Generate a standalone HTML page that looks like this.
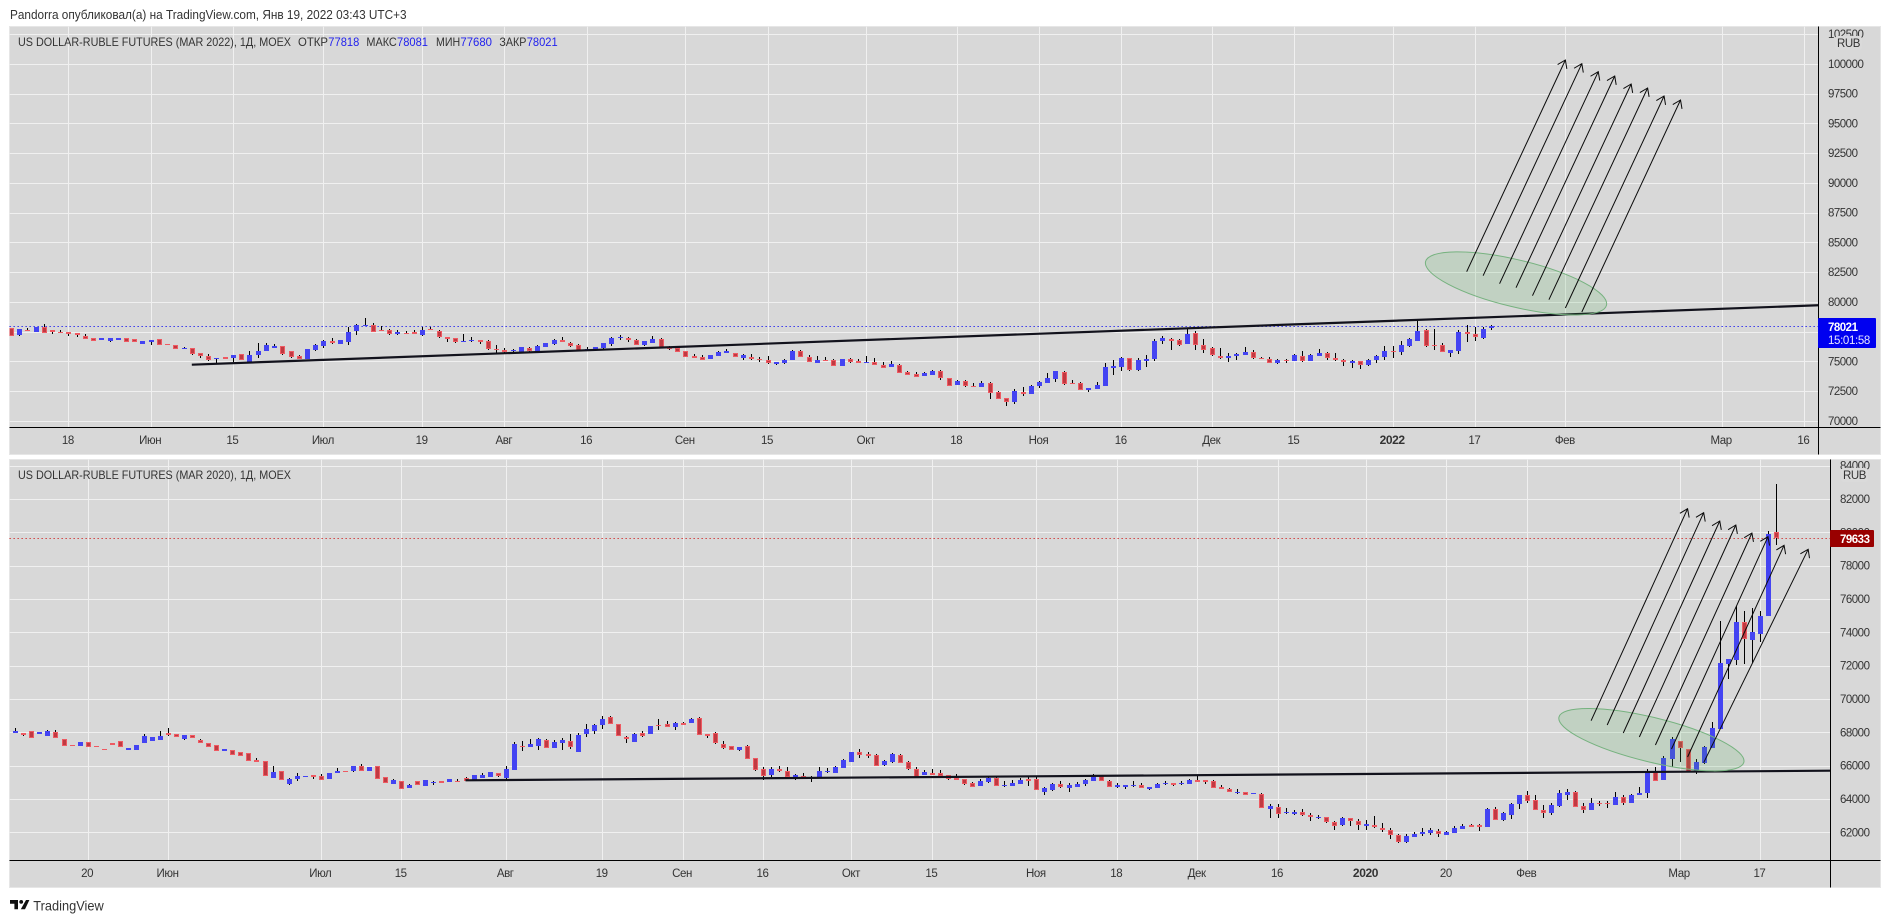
<!DOCTYPE html>
<html lang="ru">
<head>
<meta charset="utf-8">
<title>USD/RUB futures comparison</title>
<style>
html,body{margin:0;padding:0;background:#fff;width:1890px;height:923px;overflow:hidden}
svg{display:block}
text{font-family:"Liberation Sans","Noto Sans CJK SC",sans-serif;fill:#333}
</style>
</head>
<body>
<svg id="root" xmlns="http://www.w3.org/2000/svg" width="1890" height="923" viewBox="0 0 1890 923">
  <rect x="0" y="0" width="1890" height="923" fill="#ffffff"/>
  <text x="10" y="19" font-size="12.5" textLength="396.6" lengthAdjust="spacingAndGlyphs" fill="#333">Pandorra опубликовал(а) на TradingView.com, Янв 19, 2022 03:43 UTC+3</text>
  <g id="pane-top"></g>
  <g id="pane-bottom"></g>
  <g>
    <path d="M10 900h8v9.3h-3.6v-5.6H10zM26 900h3.4l-4.4 9.3h-4.2z" fill="#111"/>
    <circle cx="21.2" cy="901.9" r="1.9" fill="#111"/>
    <text x="33.3" y="910.5" font-size="14" textLength="70.4" lengthAdjust="spacingAndGlyphs" fill="#444">TradingView</text>
  </g>
</svg>
<script>
/* ---------- 2022 contract: daily OHLC ---------- */
const topOpen=[77784,77252,77644,77504,77924,77616,77476,77476,77364,77140,
76944,76776,76748,76776,76944,76860,76496,76608,76860,76468,
76412,76020,76104,75684,75432,75236,75348,75320,75600,74984,
75572,75908,76160,76272,75908,75432,75236,75992,76328,76692,
76496,76664,77588,77980,78036,77644,77616,77280,77392,77448,
77196,77728,77532,77056,76944,76664,76748,76776,76692,76020,
75964,75880,75796,76104,75880,76244,76496,76776,76524,76356,
75908,75936,76132,76496,76972,77000,
76804,76412,76580,76860,76160,76104,75852,75432,75348,75236,
75488,75740,75740,75320,75404,75208,75152,74816,74900,75152,
75852,75404,74900,75124,75096,74648,75180,75040,74900,74928,
74676,74536,74676,74088,73920,73808,73892,74228,73584,73052,
73332,72940,72884,73164,72436,71904,71624,72436,72296,72968,
73220,73556,74116,73192,73164,72632,72688,72968,74480,74564,
75264,74284,75068,75208,76720,76860,76776,76496,77364,76356,
76132,75488,75292,75460,75544,75768,
75320,75180,74900,75124,75068,75488,75068,75488,75684,75320,
75124,74844,75012,74732,75152,75376,75880,75796,76328,76748,
77644,76384,76356,75740,75908,77448,77280,76972,77818];
const topHigh=[77784,77700,77840,77868,78148,77616,77616,77476,77364,77308,
76944,76972,76944,76944,76944,76860,76692,76776,76860,76468,
76412,76216,76104,75684,75600,75292,75348,75516,75600,75880,
76552,76524,76440,76272,75908,75544,76020,76468,76804,76972,
76776,77924,78148,78652,78204,77980,77700,77616,77532,77644,
77924,77924,77644,77056,76944,77308,77028,76776,76776,76384,
76132,76048,76244,76216,76384,76524,76888,77056,76636,76468,
76216,76188,76524,77028,77224,77084,
76888,76692,77112,76944,76300,76104,75852,75600,75516,75516,
75908,76020,75740,75628,75600,75348,75432,74928,75208,75964,
75964,75544,75460,75348,75180,75180,75264,75208,75460,75264,
74928,75040,74760,74228,74088,74144,74284,74284,73640,73444,
73444,73192,73332,73248,72520,71904,72688,72828,73024,73360,
74060,74228,74228,73444,73248,72800,73276,74844,75124,75404,
75320,75264,75544,76888,77140,76944,76888,77784,77532,76888,
76244,76132,75684,75684,76216,75936,
75404,75348,75180,75208,75600,75880,75628,76048,75796,75684,
75208,75096,75012,75208,75544,76300,76300,76720,76944,78428,
77728,77728,76524,75936,77644,78036,77924,77924,78081];
const topLow=[77112,77168,77560,77504,77420,77336,77420,77168,77084,76916,
76748,76776,76664,76776,76664,76608,76496,76412,76412,76412,
76076,76020,75572,75320,75068,74872,75236,74956,75152,74928,
75320,75908,76160,75544,75320,75236,75180,75852,76132,76468,
76496,76412,77224,77980,77504,77588,77224,77252,77336,77280,
77168,77616,76972,76664,76580,76664,76664,76496,75964,75740,
75684,75824,75684,75824,75824,76244,76412,76608,76244,75852,
75908,75936,76048,76328,76832,76664,
76412,76300,76580,76160,75964,75824,75376,75320,75124,75236,
75488,75740,75404,75152,75124,74984,74788,74704,74816,75124,
75348,74956,74872,75040,74620,74648,74900,74872,74844,74676,
74424,74536,74004,73892,73696,73780,73892,73444,72940,72996,
72884,72884,72884,71876,71876,71260,71428,72100,72296,72772,
73220,73304,73052,73136,72604,72464,72688,72968,73864,74228,
74228,74200,74564,75040,76468,75992,76328,76496,75992,75712,
75488,75236,74956,75124,75544,75208,
75180,74844,74816,74900,75068,74928,75068,75488,75152,75040,
74648,74480,74396,74648,74900,75152,75320,75572,76244,76748,
76244,75992,75768,75404,75600,76636,76748,76888,77680];
const topClose=[77112,77700,77560,77868,77420,77504,77420,77336,77196,76916,
76748,76972,76944,76944,76664,76608,76692,76776,76412,76412,
76076,76132,75656,75460,75152,75292,75236,75516,75152,75516,
75880,76356,76272,75656,75404,75236,76020,76384,76692,76580,
76776,77476,78036,78036,77504,77588,77280,77448,77336,77280,
77616,77616,77028,76916,76664,76720,76804,76664,76020,75964,
75796,75936,76188,75880,76300,76524,76804,76608,76328,75908,
76048,76188,76524,76972,77028,76804,
76412,76692,76860,76160,76020,75824,75404,75320,75152,75516,
75768,75880,75404,75516,75180,75152,74844,74928,75124,75880,
75404,74984,75096,75068,74648,75180,74984,74900,74956,74732,
74480,74788,74060,73892,73724,74032,74172,73640,72968,73360,
72968,72884,73164,72380,71876,71624,72492,72296,72940,73276,
73584,74172,73136,73136,72632,72800,73024,74536,74620,75320,
74284,75124,75208,76720,76972,76720,76412,77308,76356,75992,
75572,75264,75460,75628,75768,75320,
75180,74900,75124,75068,75516,75068,75516,75684,75320,75096,
74928,75012,74732,75096,75432,75852,75824,76384,76888,77560,
76328,76328,75824,75936,77448,77280,77084,77700,78021];
const topPriceTicks=[70000,72500,75000,77500,80000,82500,85000,87500,90000,92500,95000,97500,100000,102500];
const topTimeBars=[7,17,27,38,50,60,70,82,92,104,115,125,135,146,156,168,178,189,208,218];
const topTimeLabels=["18","Июн","15","Июл","19","Авг","16","Сен","15","Окт","18","Ноя","16","Дек","15","2022","17","Фев","Мар","16"];
const topLastPrice=[78021];
const topTrendBars=[22,220];
const topTrendPrices=[74732,79730];
const topArrowStartBars=[177,179,181,183,185,187,189,191];
const topArrowStartPrices=[82544,82208,81536,81200,80528,80192,79492,79156];
const topArrowEndBars=[189,191,193,195,197,199,201,203];
const topArrowEndPrices=[100324,100016,99344,98980,98308,97972,97300,96964];
const topEllipseBars=[172,194];
const topEllipsePrices=[83390,79727];

/* ---------- 2020 contract: daily OHLC ---------- */
const bottomOpen=[67980,67940,68060,67920,67800,68000,67580,67220,67200,67400,
67160,66980,67340,67460,66960,66960,67380,67500,67560,67940,
67920,67600,67820,67520,67340,67220,66900,66920,66800,66740,
66340,66260,65280,65660,64920,65200,65340,65420,65360,65220,
65580,65680,65680,65980,65700,65960,65300,64920,65060,64680,
65060,64800,64960,65060,65040,65080,65240,65140,65280,65340,
65540,65280,65760,67180,67140,67200,67520,67080,67380,67460,
66840,67920,68100,68460,68900,68480,67700,67440,67940,67920,
68420,68480,68340,68540,68580,68840,67920,67940,67320,67200,
66940,67180,66440,65780,65440,65780,65660,65280,65360,65320,
65300,65620,65560,65860,66240,66800,66680,66620,66040,66220,
66620,66240,65780,65440,65560,65540,65420,65280,65180,64940,
64800,65020,65260,64800,64800,64920,65180,65200,64420,64540,
64880,64680,64740,64920,65100,65380,65080,64720,64740,64780,
64820,64600,64680,64920,64960,64920,64920,65140,65120,65060,
64720,64580,64380,64440,64280,64280,63420,63500,63140,63120,
63220,63020,62880,62900,62600,62460,62840,62660,62400,62460,
62280,62120,61820,61420,61740,61900,61980,62100,61860,61980,
62200,62420,62420,62340,63380,62760,63060,63720,64220,63920,
63320,63160,63580,64260,64420,63560,63360,63780,63760,63660,
64100,63740,64260,64380,65620,65140,66420,67500,67020,65620,
66160,67080,68220,72100,72360,74600,73540,73920,74980,80020];
const bottomHigh=[68260,67940,68060,68020,68140,68140,67580,67220,67400,67400,
67160,66980,67340,67460,67060,67220,67900,67700,68080,68260,
67920,67820,67820,67580,67340,67220,66980,66920,66800,66740,
66440,66260,65980,65660,65280,65560,65380,65420,65500,65540,
65840,65680,65960,66100,65900,65960,65300,65200,65060,64900,
65060,65120,65100,65060,65180,65180,65320,65420,65540,65600,
65540,65980,67420,67480,67600,67660,67580,67540,67660,67900,
67980,68500,68500,68960,68980,68480,67780,67980,68080,68360,
68800,68680,68640,68600,68880,68920,67920,68020,67480,67200,
67100,67240,66440,65920,65920,65980,65920,65500,65560,65400,
65920,65840,65980,66400,66800,67000,66800,66680,66340,66760,
66680,66300,65920,65720,65800,65740,65420,65500,65180,65020,
65180,65340,65340,65060,65140,65260,65340,65340,64740,64960,
65060,64960,65000,65220,65500,65440,65140,64960,64820,65060,
64960,64700,64980,65060,64960,65100,65220,65440,65120,65120,
64820,64660,64600,64440,64360,64340,63700,63680,63440,63340,
63380,63140,63020,62940,62680,62940,62880,62780,62740,62980,
62540,62240,61900,61900,62000,62260,62240,62180,62100,62380,
62480,62480,62500,63460,63520,63240,63740,64260,64460,64220,
63620,63740,64540,64600,64480,63760,64040,63900,63880,64400,
64220,64280,64740,65780,65900,66580,67740,67500,67020,66380,
67200,68600,74680,72400,75580,75280,75440,75280,80080,82900];
const bottomLow=[67980,67780,67680,67920,67800,67680,67200,67200,67200,67140,
67100,66960,67260,67100,66960,66960,67380,67500,67560,67780,
67740,67560,67680,67340,67140,66900,66900,66660,66600,66300,
66240,65360,65280,65120,64840,65100,65340,65200,65120,65220,
65580,65600,65620,65660,65700,65220,64940,64920,64620,64680,
64860,64800,64860,64980,65040,65040,65080,65140,65280,65340,
65320,65180,65760,66900,67140,66940,67080,67080,66960,66980,
66840,67740,67900,68220,68520,67760,67360,67440,67720,67920,
68160,68340,68160,68440,68580,67860,67660,67320,67000,66960,
66880,66420,65680,65140,65320,65620,65240,65140,65280,65020,
65300,65560,65560,65860,66240,66480,66480,66000,65980,66180,
66180,65740,65340,65440,65440,65400,65140,65160,64840,64720,
64800,64980,64800,64720,64800,64920,64780,64520,64260,64500,
64660,64420,64740,64800,65100,65060,64740,64640,64600,64700,
64680,64540,64680,64860,64780,64860,64920,65040,64920,64680,
64580,64440,64300,64260,64280,63440,62880,62880,63080,63060,
62980,62680,62820,62540,62140,62380,62380,62140,62140,62260,
62040,61600,61360,61360,61740,61800,61840,61720,61860,61980,
62200,62340,62080,62340,62720,62680,62800,63400,63780,63360,
62860,63060,63540,63940,63540,63180,63360,63600,63480,63660,
63660,63740,64260,64060,65100,65140,65900,66240,65620,65500,
66100,67080,68220,71200,72040,72100,72140,73400,74980,79240];
const bottomClose=[68100,67860,67680,68020,68060,67680,67200,67200,67400,67140,
67100,66960,67260,67100,67060,67220,67780,67700,67780,67860,
67740,67820,67680,67340,67140,66900,66980,66660,66600,66300,
66240,65360,65620,65120,65180,65380,65380,65340,65120,65540,
65680,65600,65960,65660,65900,65220,64940,65140,64620,64840,
64860,65120,65000,64980,65180,65040,65080,65420,65420,65600,
65400,65780,67300,67140,67280,67580,67080,67400,67540,67100,
67820,68180,68420,68780,68520,67760,67600,67900,67800,68360,
68380,68340,68560,68440,68800,67860,67800,67380,67080,66960,
67100,66420,65740,65400,65800,65680,65340,65440,65280,65260,
65660,65680,65900,66340,66800,66660,66600,66000,66280,66680,
66180,65780,65340,65620,65440,65400,65220,65160,64920,64740,
65060,65280,64800,64840,64960,65140,65100,64520,64660,64900,
64720,64840,64900,65140,65320,65060,64740,64840,64820,64820,
64680,64700,64900,64980,64860,64980,65140,65040,65040,64680,
64620,64440,64420,64260,64360,63440,63580,63080,63220,63220,
63020,62900,62940,62600,62400,62860,62660,62420,62500,62300,
62120,61820,61420,61780,61920,62000,62140,61920,62000,62240,
62380,62340,62340,63400,62760,63160,63680,64220,63900,63360,
63140,63620,64360,64420,63540,63360,63740,63720,63680,64100,
63760,64220,64360,65580,65100,66460,67580,67040,65620,66220,
67120,68260,72160,72400,74600,73620,74000,74980,79900,79633];
const bottomPriceTicks=[62000,64000,66000,68000,70000,72000,74000,76000,78000,80000,82000,84000];
const bottomTimeBars=[9,19,38,48,61,73,83,93,104,114,127,137,147,157,168,178,188,207,217];
const bottomTimeLabels=["20","Июн","Июл","15","Авг","19","Сен","16","Окт","15","Ноя","18","Дек","16","2020","20","Фев","Мар","17"];
const bottomLastPrice=[79633];
const bottomTrendBars=[56,226];
const bottomTrendPrices=[65120,65700];
const bottomArrowStartBars=[196,198,200,202,204,206,208,210];
const bottomArrowStartPrices=[68700,68440,67960,67720,67240,67000,66520,66180];
const bottomArrowEndBars=[208,210,212,214,216,218,220,223];
const bottomArrowEndPrices=[81420,81180,80680,80440,79960,79740,79220,78980];
const bottomEllipseBars=[192,215];
const bottomEllipsePrices=[68914,66202];

/* ---------- axis functions ---------- */
function xTop(bar){return 10.85+bar*8.225;}
function yTop(price){return 421-(price-70000)/84;}
function xBottom(bar){return 15.27+bar*8.04;}
function yBottom(price){return 460+(84340-price)/60;}

const NS='http://www.w3.org/2000/svg';
const BLUE='#4444f2',RED_EDGE='#ee5a62',RED_FILL='#c03a42';
function mk(parent,tag,attrs,txt){
  const el=document.createElementNS(NS,tag);
  for(const k in attrs){el.setAttribute(k,attrs[k]);}
  if(txt!==undefined){el.textContent=txt;}
  parent.appendChild(el);
  return el;
}

function drawPane(root,p){
  const bg=mk(root,'rect',{x:p.left,y:p.top,width:p.right-p.left,height:p.bottom-p.top,fill:'#d8d8d8',stroke:'#e6e6e6','stroke-width':1});
  
  

  const clipId='clip-'+p.id;
  const defs=mk(root,'defs',{});
  const cp=mk(defs,'clipPath',{id:clipId});
  mk(cp,'rect',{x:p.left,y:p.top,width:p.axisX-p.left,height:p.timeY-p.top});

  const grid=mk(root,'g',{'shape-rendering':'crispEdges'});
  
  
  p.priceTicks.forEach(function(t){
    const yy=Math.round(p.y(t))+0.5;
    if(yy<p.top){return;}
    const ln=mk(grid,'line',{x1:p.left,x2:p.axisX,y1:yy,y2:yy,stroke:'#f0f0f0','stroke-width':1});
    
    
  });
  p.timeBars.forEach(function(b){
    const xx=Math.round(p.x(b))+0.5;
    const ln=mk(grid,'line',{x1:xx,x2:xx,y1:p.top,y2:p.timeY,stroke:'#f0f0f0','stroke-width':1});
    
    
  });

  const plot=mk(root,'g',{'clip-path':'url(#'+clipId+')'});
  
  

  const lastY=p.y(p.last[0]);
  const lastLine=mk(plot,'line',{x1:p.left,x2:p.axisX,y1:Math.round(lastY)+0.5,y2:Math.round(lastY)+0.5,stroke:p.lastColor,'stroke-width':1,'stroke-dasharray':'1.3 2.7'});
  
  

  const candles=mk(plot,'g',{'shape-rendering':'crispEdges'});
  
  
  p.open.forEach(function(o,i){
    const c=p.close[i],cx=Math.round(p.x(i));
    const up=c>=o;
    const g=mk(candles,'g',{});
    
    
    const yH=Math.round(p.y(p.high[i])),yL=Math.round(p.y(p.low[i]));
    const wick=mk(g,'rect',{x:cx,y:yH,width:1,height:Math.max(1,yL-yH),fill:'#000'});
    
    
    const yT=Math.round(p.y(Math.max(o,c))),yB=Math.round(p.y(Math.min(o,c)));
    const h=Math.max(1,yB-yT);
    const body=mk(g,'rect',{x:cx-2,y:yT,width:5,height:h,fill:up?BLUE:RED_EDGE});
    
    
    if(!up&&h>=3){
      const inner=mk(g,'rect',{x:cx-1,y:yT+1,width:3,height:h-2,fill:RED_FILL});
      
      
    }
  });

  const tr=mk(plot,'line',{x1:p.x(p.trendBars[0]),y1:p.y(p.trendPrices[0]),x2:p.x(p.trendBars[1]),y2:p.y(p.trendPrices[1]),stroke:'#12121c','stroke-width':2.2});
  
  

  const ex0=p.x(p.ellipseBars[0]),ex1=p.x(p.ellipseBars[1]),ey0=p.y(p.ellipsePrices[0]),ey1=p.y(p.ellipsePrices[1]);
  const ecx=(ex0+ex1)/2,ecy=(ey0+ey1)/2,ea=Math.hypot(ex1-ex0,ey1-ey0)/2,eang=Math.atan2(ey1-ey0,ex1-ex0)*180/Math.PI;
  const ell=mk(plot,'ellipse',{cx:ecx,cy:ecy,rx:ea,ry:p.ellipseMinor,transform:'rotate('+eang+' '+ecx+' '+ecy+')',fill:'rgba(76,175,80,0.16)',stroke:'#76b27f','stroke-width':1});
  
  

  p.arrowStartBars.forEach(function(b,i){
    const x1=p.x(b),y1=p.y(p.arrowStartPrices[i]),x2=p.x(p.arrowEndBars[i]),y2=p.y(p.arrowEndPrices[i]);
    const a=Math.atan2(y2-y1,x2-x1),L=9,s=0.6;
    const g=mk(plot,'g',{fill:'none',stroke:'#0a0a0a','stroke-width':1});
    
    
    const shaft=mk(g,'line',{x1:x1,y1:y1,x2:x2,y2:y2});
    
    
    const head=mk(g,'polyline',{points:(x2-L*Math.cos(a-s))+','+(y2-L*Math.sin(a-s))+' '+x2+','+y2+' '+(x2-L*Math.cos(a+s))+','+(y2-L*Math.sin(a+s))});
    
    
  });

  const axes=mk(root,'g',{'shape-rendering':'crispEdges'});
  
  
  const ta=mk(axes,'line',{x1:p.left,x2:p.right,y1:p.timeY+0.5,y2:p.timeY+0.5,stroke:'#000','stroke-width':1});
  
  
  const pa=mk(axes,'line',{x1:p.axisX+0.5,x2:p.axisX+0.5,y1:p.top,y2:p.bottom,stroke:'#000','stroke-width':1});
  
  

  p.priceTicks.forEach(function(t){
    const lb=mk(root,'text',{x:p.labelX,y:p.y(t)+4,'font-size':11.5,'letter-spacing':-0.5,fill:'#333'},String(t));
    
    
  });
  p.timeBars.forEach(function(b,i){
    const isYear=/^20/.test(p.timeLabels[i])&&p.timeLabels[i].length===4;
    const lb=mk(root,'text',{x:p.x(b)-0.5,y:p.timeY+17,'font-size':isYear?12:11.5,'letter-spacing':-0.4,'font-weight':isYear?'bold':'normal','text-anchor':'middle',fill:'#333'},p.timeLabels[i]);
    
    
  });

  const badge=mk(root,'rect',{x:p.badgeX,y:p.badgeY,width:27,height:14,rx:3,fill:'#dadada'});
  
  
  const bt=mk(root,'text',{x:p.badgeX+13.5,y:p.badgeY+11,'font-size':11.5,'letter-spacing':-0.4,'text-anchor':'middle',fill:'#333'},'RUB');
  
  

  const pb=mk(root,'rect',{x:p.axisX,y:p.boxY,width:p.boxW,height:p.boxH,rx:1,fill:p.boxColor});
  
  
  const pt=mk(root,'text',{x:p.labelX,y:p.boxTextY,'font-size':11.5,'letter-spacing':-0.5,'font-weight':'bold',style:'fill:#fff'},String(p.last[0]));
  
  
  if(p.countdown){
    const cd=mk(root,'text',{x:p.labelX,y:p.boxTextY+13,'font-size':11.5,'letter-spacing':-0.35,style:'fill:#e6e6ff'},p.countdown);
    
    
  }
}

drawPane(document.getElementById('pane-top'),{
  id:'top',left:9.5,right:1880.5,top:26.5,bottom:454.5,axisX:1818,timeY:427,labelX:1828,
  x:xTop,y:yTop,open:topOpen,high:topHigh,low:topLow,close:topClose,
  priceTicks:topPriceTicks,timeBars:topTimeBars,timeLabels:topTimeLabels,last:topLastPrice,lastColor:'#2020f0',
  trendBars:topTrendBars,trendPrices:topTrendPrices,
  arrowStartBars:topArrowStartBars,arrowStartPrices:topArrowStartPrices,arrowEndBars:topArrowEndBars,arrowEndPrices:topArrowEndPrices,
  ellipseBars:topEllipseBars,ellipsePrices:topEllipsePrices,ellipseMinor:23.5,
  badgeX:1835,badgeY:36,boxY:318,boxW:58,boxH:30,boxColor:'#0000f0',boxTextY:331,countdown:'15:01:58'
});
drawPane(document.getElementById('pane-bottom'),{
  id:'bottom',left:9.5,right:1880.5,top:459.5,bottom:887.5,axisX:1830,timeY:860,labelX:1840,
  x:xBottom,y:yBottom,open:bottomOpen,high:bottomHigh,low:bottomLow,close:bottomClose,
  priceTicks:bottomPriceTicks,timeBars:bottomTimeBars,timeLabels:bottomTimeLabels,last:bottomLastPrice,lastColor:'#d03030',
  trendBars:bottomTrendBars,trendPrices:bottomTrendPrices,
  arrowStartBars:bottomArrowStartBars,arrowStartPrices:bottomArrowStartPrices,arrowEndBars:bottomArrowEndBars,arrowEndPrices:bottomArrowEndPrices,
  ellipseBars:bottomEllipseBars,ellipsePrices:bottomEllipsePrices,ellipseMinor:22.2,
  badgeX:1841,badgeY:468,boxY:530,boxW:44,boxH:17,boxColor:'#990000',boxTextY:543,countdown:''
});

/* ---------- legends ---------- */
const topLegendParts=[
  ["US DOLLAR-RUBLE FUTURES (MAR 2022), 1Д, MOEX",18,273,'#333'],
  ["ОТКР",298,30,'#333'],["77818",328.3,31,'#2222ee'],
  ["МАКС",366.4,30.4,'#333'],["78081",397,31,'#2222ee'],
  ["МИН",436,24.2,'#333'],["77680",460.4,31.6,'#2222ee'],
  ["ЗАКР",499.4,27,'#333'],["78021",526.7,31,'#2222ee']];
const bottomLegendParts=[["US DOLLAR-RUBLE FUTURES (MAR 2020), 1Д, MOEX",18,273,'#333']];
function drawLegend(parts,yy,nm){
  const root=document.getElementById('root');
  const g=mk(root,'g',{});
  
  
  parts.forEach(function(q){
    const t=mk(g,'text',{x:q[1],y:yy,'font-size':12,textLength:q[2],lengthAdjust:'spacingAndGlyphs',style:'fill:'+q[3]},q[0]);
    
    
  });
}
drawLegend(topLegendParts,46,'legend-2022');
drawLegend(bottomLegendParts,479,'legend-2020');
</script>
</body>
</html>
